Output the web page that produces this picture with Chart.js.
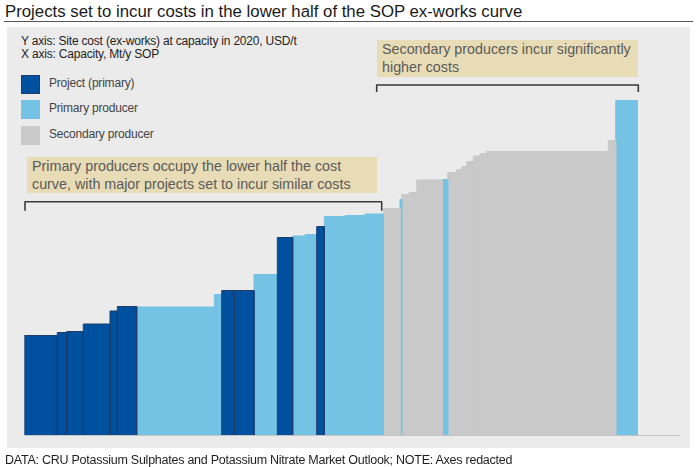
<!DOCTYPE html>
<html>
<head>
<meta charset="utf-8">
<script src="https://cdn.jsdelivr.net/npm/chart.js@4.4.1/dist/chart.umd.min.js"></script>
<style>
  html, body { margin: 0; padding: 0; background: #ffffff; }
  body { width: 699px; height: 467px; position: relative; overflow: hidden; font-family: "Liberation Sans", Arial, sans-serif; }
  #title { position: absolute; left: 5px; top: 2px; font-size: 16.8px; color: #1a1a1a; white-space: nowrap; }
  #rule { position: absolute; left: 4px; top: 21px; width: 689px; height: 0; border-top: 1.5px solid #555; }
  #panel { position: absolute; left: 7px; top: 27px; width: 683px; height: 421px; background: #ebebeb; }
  #axes { position: absolute; left: 21px; top: 35px; font-size: 12px; line-height: 13px; color: #1e1e1e; letter-spacing: -0.2px; }
  .leg { position: absolute; left: 21px; width: 19px; height: 19px; }
  .legt { position: absolute; left: 49px; font-size: 12px; color: #444; letter-spacing: -0.2px; }
  .note { position: absolute; background: #e8dcb6; color: #5a5a5a; font-size: 14.3px; line-height: 17.5px; padding: 1px 0 0 5px; box-sizing: border-box; white-space: nowrap; }
  #footer { position: absolute; left: 5px; top: 453px; font-size: 12.5px; color: #1e1e1e; white-space: nowrap; letter-spacing: -0.25px; }
  #c { position: absolute; left: 0; top: 0; }
</style>
</head>
<body>
<div id="title">Projects set to incur costs in the lower half of the SOP ex-works curve</div>
<div id="rule"></div>
<div id="panel"></div>
<div id="axes">Y axis: Site cost (ex-works) at capacity in 2020, USD/t<br>X axis: Capacity, Mt/y SOP</div>
<div class="leg" style="top:75px;background:#0050a0;border:1px solid #1d3d6b;box-sizing:border-box;"></div>
<div class="legt" style="top:76px;">Project (primary)</div>
<div class="leg" style="top:100px;background:#74c3e5;"></div>
<div class="legt" style="top:101px;">Primary producer</div>
<div class="leg" style="top:126px;background:#c9c9c9;"></div>
<div class="legt" style="top:127px;">Secondary producer</div>
<div class="note" style="left:27px;top:157px;width:350px;height:36px;">Primary producers occupy the lower half the cost<br>curve, with major projects set to incur similar costs</div>
<div class="note" style="left:377px;top:40px;width:261px;height:37px;">Secondary producers incur significantly<br>higher costs</div>
<canvas id="c" width="699" height="467"></canvas>
<div id="footer">DATA: CRU Potassium Sulphates and Potassium Nitrate Market Outlook; NOTE: Axes redacted</div>
<script>
// Capacity of each producer (Mt/y SOP), in cost-curve order
const capacities = [0.330, 0.094, 0.166, 0.267, 0.073, 0.194, 0.776, 0.074, 0.123, 0.200,
                    0.233, 0.154, 0.123, 0.117, 0.076, 0.207, 0.200, 0.183, 0.167, 0.017,
                    0.073, 0.077, 0.256, 0.054, 0.090, 0.050, 0.050, 0.066, 0.067, 0.067,
                    1.216, 0.074, 0.216];
// Site cost (ex-works) at capacity, USD/t (axes redacted in source; estimated)
const costs = [199, 205, 207, 222, 248, 257, 256, 281, 289, 289,
               321, 395, 398, 401, 417, 437, 439, 442, 453, 471,
               481, 485, 510, 511, 525, 531, 537, 547, 558, 563,
               567, 589, 669];
// P = project (primary), R = primary producer, S = secondary producer
const types = ['P','P','P','P','P','P','R','R','P','P',
               'R','P','R','R','P','R','R','R','S','R',
               'S','S','S','R','S','S','S','S','S','S',
               'S','S','R'];
const categoryNames = { P: 'Project (primary)', R: 'Primary producer', S: 'Secondary producer' };
const fills = { P: '#0050a0', R: '#74c3e5', S: '#c9c9c9' };
const borders = { P: '#1d3d6b', R: '#74c3e5', S: '#c9c9c9' };

const xMax = 6.557, yMax = 670;

const starts = [];
let acc = 0;
capacities.forEach(c => { starts.push(acc); acc += c; });

const datasets = capacities.map((c, i) => {
  const x0 = starts[i], x1 = starts[i] + c, y = costs[i], t = types[i];
  return {
    label: categoryNames[t],
    data: [{x: x0, y: 0}, {x: x0, y: y}, {x: x1, y: y}, {x: x1, y: 0}],
    backgroundColor: fills[t],
    borderColor: borders[t],
    borderWidth: 1,
    fill: 'origin',
    pointRadius: 0,
    tension: 0,
    order: t === 'P' ? 0 : 1
  };
});

// index ranges for the brackets
const primaryEnd = 17;    // last index of the primary-dominated section (inclusive)
const secondaryStart = 18;

const decor = {
  id: 'decor',
  afterDatasetsDraw(chart) {
    const {ctx, scales: {x, y}} = chart;
    ctx.save();
    // baseline
    ctx.strokeStyle = '#c4c4c4';
    ctx.lineWidth = 1;
    ctx.beginPath();
    ctx.moveTo(x.getPixelForValue(0), y.getPixelForValue(0) + 0.5);
    ctx.lineTo(x.getPixelForValue(xMax), y.getPixelForValue(0) + 0.5);
    ctx.stroke();
    // brackets
    ctx.strokeStyle = '#3a3a3a';
    ctx.lineWidth = 1.6;
    ctx.lineJoin = 'round';
    function bracket(xa, xb, yTop, depth) {
      ctx.beginPath();
      ctx.moveTo(xa, yTop + depth);
      ctx.lineTo(xa, yTop);
      ctx.lineTo(xb, yTop);
      ctx.lineTo(xb, yTop + depth);
      ctx.stroke();
    }
    const a1 = x.getPixelForValue(starts[0]) + 0.7;
    const b1 = x.getPixelForValue(starts[primaryEnd] + capacities[primaryEnd]) - 1.6;
    bracket(a1, b1, 201.7, 9);
    const a2 = x.getPixelForValue(starts[secondaryStart]) - 6.6;
    const last = capacities.length - 1;
    const b2 = x.getPixelForValue(starts[last] + capacities[last]) + 1;
    bracket(a2, b2, 85, 7);
    ctx.restore();
  }
};

new Chart(document.getElementById('c'), {
  type: 'line',
  data: { datasets },
  options: {
    responsive: false,
    animation: false,
    events: [],
    layout: { padding: { left: 24.3, right: 19, top: 100, bottom: 32 } },
    plugins: { legend: { display: false }, tooltip: { enabled: false }, title: { display: false } },
    scales: {
      x: { type: 'linear', min: 0, max: xMax, display: false },
      y: { type: 'linear', min: 0, max: yMax, display: false }
    }
  },
  plugins: [decor]
});
</script>
</body>
</html>
